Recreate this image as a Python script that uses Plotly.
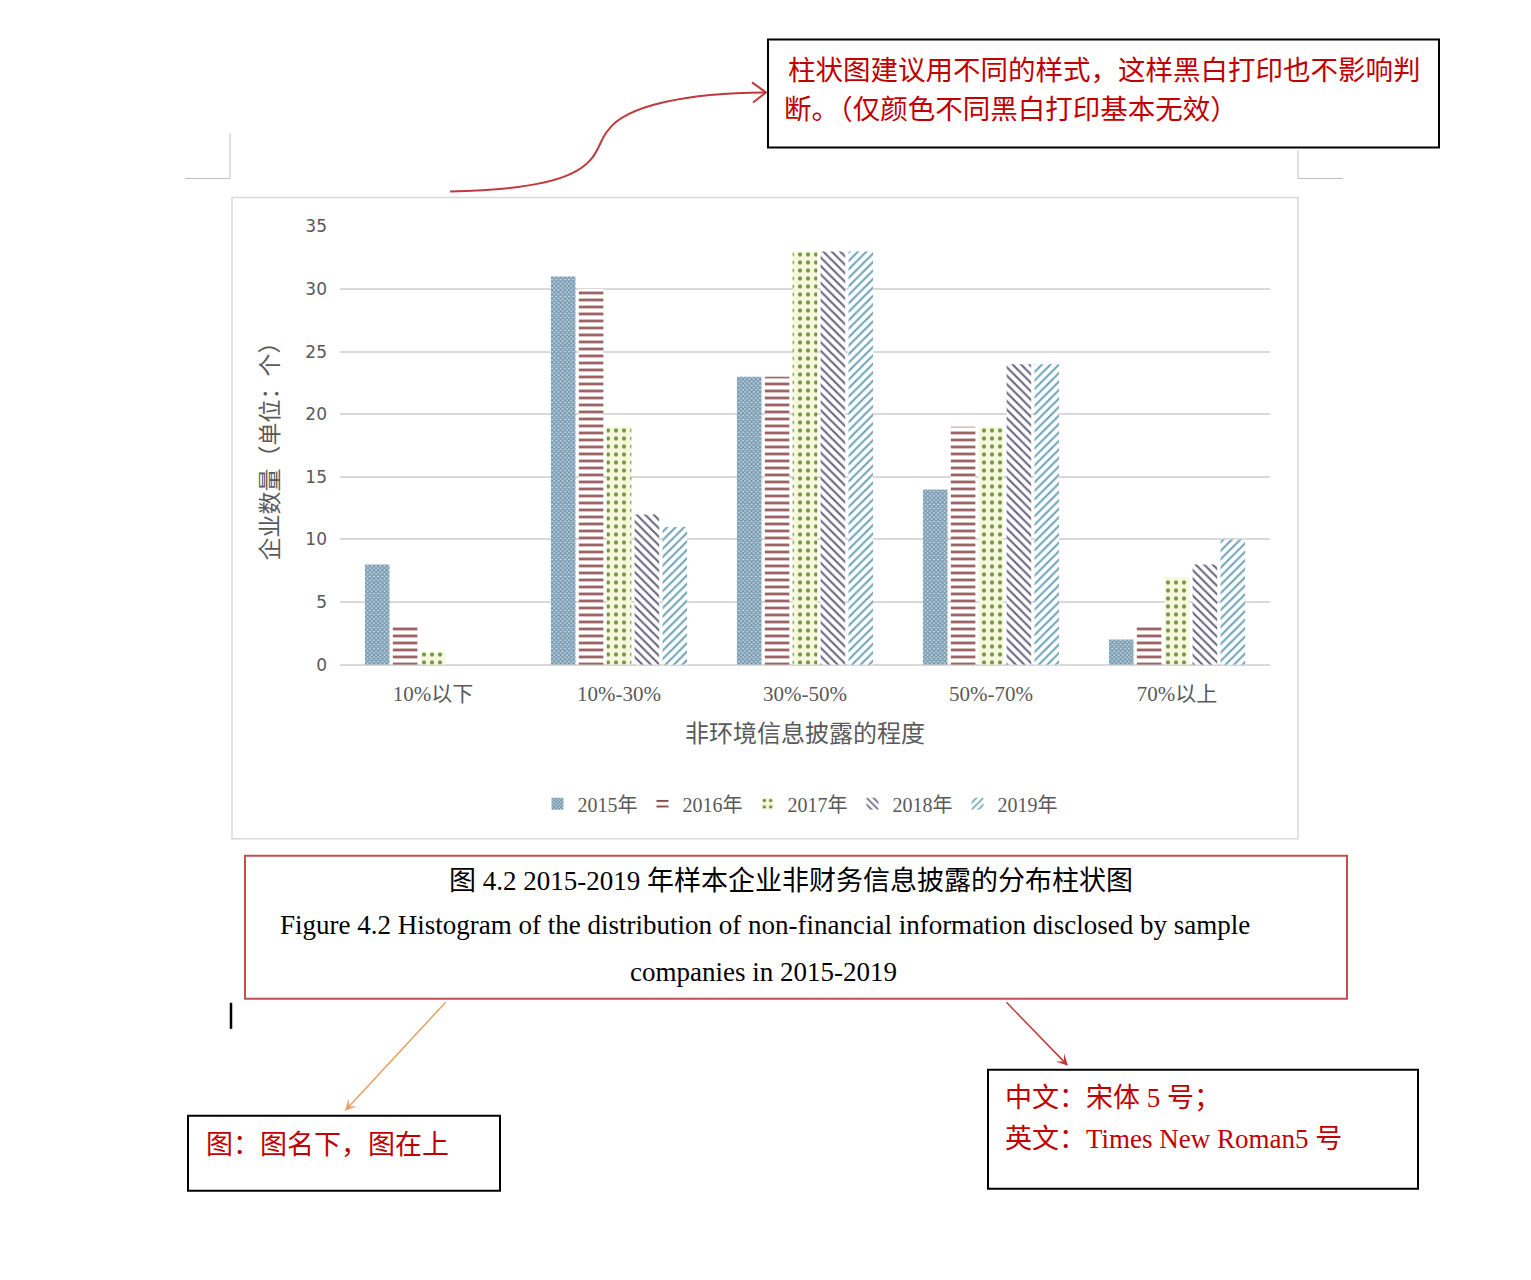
import plotly.graph_objects as go

W, H = 1531, 1280

categories = ["10%以下", "10%-30%", "30%-50%", "50%-70%", "70%以上"]
years = ["2015年", "2016年", "2017年", "2018年", "2019年"]
v2015 = [8, 31, 23, 14, 2]
v2016 = [3, 30, 23, 19, 3]
v2017 = [1, 19, 33, 19, 7]
v2018 = [0, 12, 33, 24, 8]
v2019 = [0, 11, 33, 24, 10]
y_ticks = [0, 5, 10, 15, 20, 25, 30, 35]

CJK = "Noto Sans CJK SC"
SERIF = "Liberation Serif, Noto Sans CJK SC"
RED = "#c00000"


# map screenshot pixel positions to paper coordinates
def px(x):
    return (x - 8) / W


def py(y):
    return 1 - (y - 17.6) / 0.984 / H


# pattern look per year (Excel-style fills)
styles = [
    dict(shape="x", fgcolor="#6f94ab", bgcolor="#c3d5e0", size=3, solidity=0.6),
    dict(shape="-", fgcolor="#8c4b4b", bgcolor="white", size=7, solidity=0.35),
    dict(shape=".", fgcolor="#6f8f3c", bgcolor="#f5f8dc", size=8, solidity=0.22),
    dict(shape="\\", fgcolor="#6a6480", bgcolor="white", size=6, solidity=0.35),
    dict(shape="/", fgcolor="#6fa4b8", bgcolor="white", size=6, solidity=0.35),
]

fig = go.Figure()
for name, vals, st in zip(years, [v2015, v2016, v2017, v2018, v2019], styles):
    fig.add_trace(go.Bar(
        x=categories, y=vals, name=name,
        marker=dict(color=st["bgcolor"], line=dict(width=0),
                    pattern=dict(shape=st["shape"], fgcolor=st["fgcolor"],
                                 bgcolor=st["bgcolor"], size=st["size"],
                                 solidity=st["solidity"], fillmode="replace")),
    ))

fig.update_layout(
    width=W, height=H,
    margin=dict(l=0, r=0, t=0, b=0),
    paper_bgcolor="white", plot_bgcolor="white",
    barmode="group", bargap=0.25, bargroupgap=0.12,
    font=dict(family=CJK, color="#595959"),
    showlegend=True,
    legend=dict(orientation="h", x=px(800), y=py(803), xanchor="center", yanchor="middle",
                font=dict(family=SERIF, size=20, color="#595959"),
                itemwidth=30, traceorder="normal"),
    xaxis=dict(domain=[px(340), px(1270)], anchor="y",
               tickfont=dict(family=SERIF, size=21, color="#595959"),
               ticks="", showgrid=False, showline=False, ticklabelstandoff=14,
               title=dict(text="非环境信息披露的程度", standoff=20,
                          font=dict(family=CJK, size=24, color="#595959"))),
    yaxis=dict(domain=[py(664), py(226)], range=[0, 35], tickvals=y_ticks,
               tickfont=dict(family="DejaVu Sans", size=17, color="#595959"),
               showgrid=True, gridcolor="#d9d9d9", gridwidth=1.5,
               zeroline=True, zerolinecolor="#d9d9d9", zerolinewidth=1.5,
               ticks="", showline=False, ticklabelstandoff=12,
               title=dict(text="企业数量（单位：个）", standoff=20,
                          font=dict(family=CJK, size=23, color="#595959"))),
)

shapes = []
# chart frame
shapes.append(dict(type="rect", xref="paper", yref="paper",
                   x0=px(232), x1=px(1298), y0=py(838), y1=py(197),
                   line=dict(color="#d9d9d9", width=1.5)))
# page corner marks
for path in [f"M {px(185)},{py(178)} L {px(230)},{py(178)} L {px(230)},{py(133)}",
             f"M {px(1298)},{py(150)} L {px(1298)},{py(178)} L {px(1343)},{py(178)}"]:
    shapes.append(dict(type="path", xref="paper", yref="paper", path=path,
                       line=dict(color="#bfbfbf", width=1)))
# note boxes
shapes.append(dict(type="rect", xref="paper", yref="paper",
                   x0=px(768), x1=px(1439), y0=py(147), y1=py(39),
                   line=dict(color="black", width=2)))
shapes.append(dict(type="rect", xref="paper", yref="paper",
                   x0=px(245), x1=px(1347), y0=py(998), y1=py(855),
                   line=dict(color="#c0504d", width=2)))
shapes.append(dict(type="rect", xref="paper", yref="paper",
                   x0=px(188), x1=px(500), y0=py(1190), y1=py(1115),
                   line=dict(color="black", width=2)))
shapes.append(dict(type="rect", xref="paper", yref="paper",
                   x0=px(988), x1=px(1418), y0=py(1188), y1=py(1069),
                   line=dict(color="black", width=2)))
# text cursor
shapes.append(dict(type="line", xref="paper", yref="paper",
                   x0=px(231), x1=px(231), y0=py(1002), y1=py(1028),
                   line=dict(color="black", width=2.5)))
# curved arrow to top note
shapes.append(dict(type="path", xref="paper", yref="paper",
                   path=(f"M {px(450)},{py(191)} C {px(610)},{py(188)} {px(590)},{py(150)} "
                         f"{px(608)},{py(130)} C {px(625)},{py(105)} {px(690)},{py(92)} {px(765)},{py(92)}"),
                   line=dict(color="#c0393b", width=2)))
shapes.append(dict(type="path", xref="paper", yref="paper",
                   path=f"M {px(752)},{py(82)} L {px(766)},{py(92)} L {px(753)},{py(102)}",
                   line=dict(color="#c0393b", width=2)))
fig.update_layout(shapes=shapes)

# straight arrows (offsets in pixels from head to tail)
fig.add_annotation(xref="paper", yref="paper", axref="pixel", ayref="pixel",
                   x=px(345), y=py(1110), ax=102, ay=-110, text="",
                   showarrow=True, arrowhead=3, arrowsize=1.3, arrowwidth=1.5,
                   arrowcolor="#e8a060")
fig.add_annotation(xref="paper", yref="paper", axref="pixel", ayref="pixel",
                   x=px(1068), y=py(1065), ax=-63, ay=-65, text="",
                   showarrow=True, arrowhead=3, arrowsize=1.3, arrowwidth=1.5,
                   arrowcolor="#c0393b")

# texts
fig.add_annotation(xref="paper", yref="paper", x=px(786), y=py(68), xanchor="left",
                   yanchor="middle", showarrow=False,
                   text="柱状图建议用不同的样式，这样黑白打印也不影响判",
                   font=dict(family=CJK, size=27.5, color=RED))
fig.add_annotation(xref="paper", yref="paper", x=px(782), y=py(107), xanchor="left",
                   yanchor="middle", showarrow=False,
                   text="断。（仅颜色不同黑白打印基本无效）",
                   font=dict(family=CJK, size=27.5, color=RED))
fig.add_annotation(xref="paper", yref="paper", x=px(791), y=py(880), xanchor="center",
                   yanchor="middle", showarrow=False,
                   text="图 4.2 2015-2019 年样本企业非财务信息披露的分布柱状图",
                   font=dict(family=SERIF, size=27, color="black"))
fig.add_annotation(xref="paper", yref="paper", x=px(765), y=py(924), xanchor="center",
                   yanchor="middle", showarrow=False,
                   text="Figure 4.2 Histogram of the distribution of non-financial information disclosed by sample",
                   font=dict(family=SERIF, size=27, color="black"))
fig.add_annotation(xref="paper", yref="paper", x=px(763), y=py(971), xanchor="center",
                   yanchor="middle", showarrow=False,
                   text="companies in 2015-2019",
                   font=dict(family=SERIF, size=27, color="black"))
fig.add_annotation(xref="paper", yref="paper", x=px(204), y=py(1142), xanchor="left",
                   yanchor="middle", showarrow=False,
                   text="图：图名下，图在上",
                   font=dict(family=CJK, size=27, color=RED))
fig.add_annotation(xref="paper", yref="paper", x=px(1003), y=py(1097), xanchor="left",
                   yanchor="middle", showarrow=False,
                   text="中文：宋体 5 号；",
                   font=dict(family=SERIF, size=27, color=RED))
fig.add_annotation(xref="paper", yref="paper", x=px(1003), y=py(1138), xanchor="left",
                   yanchor="middle", showarrow=False,
                   text="英文：Times New Roman5 号",
                   font=dict(family=SERIF, size=27, color=RED))

fig.write_html("out.html")
